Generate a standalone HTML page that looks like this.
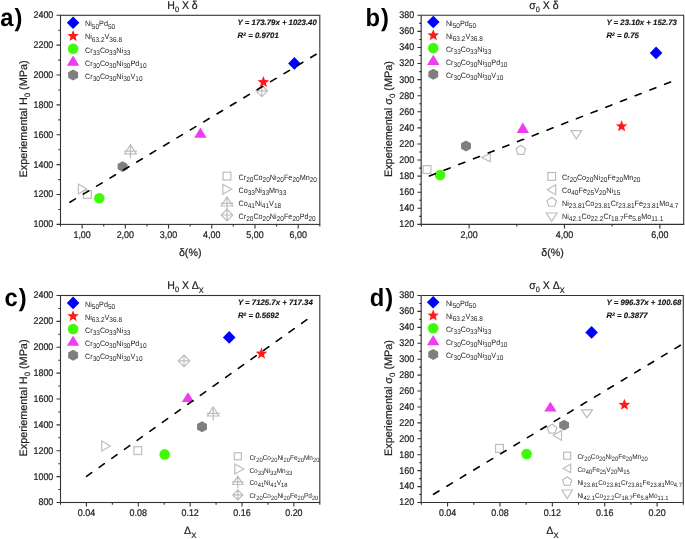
<!DOCTYPE html>
<html><head><meta charset="utf-8"><style>
html,body{margin:0;padding:0;background:#fff;width:685px;height:539px;overflow:hidden;}
svg{display:block;font-family:"Liberation Sans", sans-serif;will-change:transform;text-rendering:geometricPrecision;}
</style></head><body>
<svg width="685" height="539" viewBox="0 0 685 539" font-family='"Liberation Sans", sans-serif'>
<rect width="685" height="539" fill="#fff"/>
<rect x="60.5" y="15.3" width="259.3" height="209.1" fill="none" stroke="#333" stroke-width="1.1"/>
<path d="M56.5 224.4H60.5M56.5 194.53H60.5M56.5 164.66H60.5M56.5 134.79H60.5M56.5 104.91H60.5M56.5 75.04H60.5M56.5 45.17H60.5M56.5 15.3H60.5M58.3 209.46H60.5M58.3 179.59H60.5M58.3 149.72H60.5M58.3 119.85H60.5M58.3 89.98H60.5M58.3 60.11H60.5M58.3 30.24H60.5M82.11 224.4V228.4M125.33 224.4V228.4M168.54 224.4V228.4M211.76 224.4V228.4M254.98 224.4V228.4M298.19 224.4V228.4M60.5 224.4V226.6M103.72 224.4V226.6M146.93 224.4V226.6M190.15 224.4V226.6M233.37 224.4V226.6M276.58 224.4V226.6M319.8 224.4V226.6" stroke="#333" stroke-width="1.1" fill="none"/>
<text transform="translate(53.3 227.3) scale(0.92 1)" font-size="9.7" text-anchor="end" fill="#222" stroke="#222" stroke-width="0.22">1000</text>
<text transform="translate(53.3 197.43) scale(0.92 1)" font-size="9.7" text-anchor="end" fill="#222" stroke="#222" stroke-width="0.22">1200</text>
<text transform="translate(53.3 167.56) scale(0.92 1)" font-size="9.7" text-anchor="end" fill="#222" stroke="#222" stroke-width="0.22">1400</text>
<text transform="translate(53.3 137.69) scale(0.92 1)" font-size="9.7" text-anchor="end" fill="#222" stroke="#222" stroke-width="0.22">1600</text>
<text transform="translate(53.3 107.81) scale(0.92 1)" font-size="9.7" text-anchor="end" fill="#222" stroke="#222" stroke-width="0.22">1800</text>
<text transform="translate(53.3 77.94) scale(0.92 1)" font-size="9.7" text-anchor="end" fill="#222" stroke="#222" stroke-width="0.22">2000</text>
<text transform="translate(53.3 48.07) scale(0.92 1)" font-size="9.7" text-anchor="end" fill="#222" stroke="#222" stroke-width="0.22">2200</text>
<text transform="translate(53.3 18.2) scale(0.92 1)" font-size="9.7" text-anchor="end" fill="#222" stroke="#222" stroke-width="0.22">2400</text>
<text transform="translate(82.11 238) scale(0.92 1)" font-size="9.7" text-anchor="middle" fill="#222" stroke="#222" stroke-width="0.22">1,00</text>
<text transform="translate(125.33 238) scale(0.92 1)" font-size="9.7" text-anchor="middle" fill="#222" stroke="#222" stroke-width="0.22">2,00</text>
<text transform="translate(168.54 238) scale(0.92 1)" font-size="9.7" text-anchor="middle" fill="#222" stroke="#222" stroke-width="0.22">3,00</text>
<text transform="translate(211.76 238) scale(0.92 1)" font-size="9.7" text-anchor="middle" fill="#222" stroke="#222" stroke-width="0.22">4,00</text>
<text transform="translate(254.98 238) scale(0.92 1)" font-size="9.7" text-anchor="middle" fill="#222" stroke="#222" stroke-width="0.22">5,00</text>
<text transform="translate(298.19 238) scale(0.92 1)" font-size="9.7" text-anchor="middle" fill="#222" stroke="#222" stroke-width="0.22">6,00</text>
<text transform="translate(167.3 8.7) scale(0.93 1)" font-size="11.3" fill="#222" stroke="#222" stroke-width="0.2"><tspan>H</tspan><tspan dy="2.9" font-size="7.91">0</tspan><tspan dy="-2.9"> X &#948;</tspan></text>
<text x="0" y="0" font-size="10.85" fill="#222" text-anchor="middle" transform="translate(27.3 118.9) rotate(-90)" stroke="#222" stroke-width="0.2"><tspan>Experiemental H</tspan><tspan dy="2.9" font-size="7.81">0</tspan><tspan dy="-2.9"> (MPa)</tspan></text>
<text x="190.2" y="255.8" font-size="10.7" fill="#222" text-anchor="middle" stroke="#222" stroke-width="0.2"><tspan>&#948;(%)</tspan></text>
<text transform="translate(0.3 25.6) scale(0.95 1)" font-size="25" font-weight="bold" fill="#000" letter-spacing="1">a)</text>
<path d="M73.1 16.4L79.4 22.7L73.1 29L66.8 22.7Z" fill="#0000ff"/>
<polygon points="73.1,29.95 74.64,33.93 78.9,34.16 75.59,36.86 76.69,40.99 73.1,38.67 69.51,40.99 70.61,36.86 67.3,34.16 71.56,33.93" fill="#ff1a1a"/>
<circle cx="73.1" cy="48.8" r="5.3" fill="#3dfc05"/>
<path d="M73.1 55.45L79.3 65.65L66.9 65.65Z" fill="#ee3cf0"/>
<polygon points="73.1,69.55 78.06,72.28 78.06,77.72 73.1,80.45 68.14,77.73 68.14,72.28" fill="#7f7f7f"/>
<text transform="translate(85 26.4) scale(0.93 1)" font-size="7.78" fill="#222" ><tspan>Ni</tspan><tspan dy="2.3" font-size="7">50</tspan><tspan dy="-2.3">Pd</tspan><tspan dy="2.3" font-size="7">50</tspan></text>
<text transform="translate(85 39.45) scale(0.93 1)" font-size="7.78" fill="#222" ><tspan>Ni</tspan><tspan dy="2.3" font-size="7">63.2</tspan><tspan dy="-2.3">V</tspan><tspan dy="2.3" font-size="7">36.8</tspan></text>
<text transform="translate(85 52.5) scale(0.93 1)" font-size="7.78" fill="#222" ><tspan>Cr</tspan><tspan dy="2.3" font-size="7">33</tspan><tspan dy="-2.3">Co</tspan><tspan dy="2.3" font-size="7">33</tspan><tspan dy="-2.3">Ni</tspan><tspan dy="2.3" font-size="7">33</tspan></text>
<text transform="translate(85 65.55) scale(0.93 1)" font-size="7.78" fill="#222" ><tspan>Cr</tspan><tspan dy="2.3" font-size="7">30</tspan><tspan dy="-2.3">Co</tspan><tspan dy="2.3" font-size="7">30</tspan><tspan dy="-2.3">Ni</tspan><tspan dy="2.3" font-size="7">30</tspan><tspan dy="-2.3">Pd</tspan><tspan dy="2.3" font-size="7">10</tspan></text>
<text transform="translate(85 78.6) scale(0.93 1)" font-size="7.78" fill="#222" ><tspan>Cr</tspan><tspan dy="2.3" font-size="7">30</tspan><tspan dy="-2.3">Co</tspan><tspan dy="2.3" font-size="7">30</tspan><tspan dy="-2.3">Ni</tspan><tspan dy="2.3" font-size="7">30</tspan><tspan dy="-2.3">V</tspan><tspan dy="2.3" font-size="7">10</tspan></text>
<text x="237.6" y="25.1" font-size="7.8" font-weight="bold" font-style="italic" fill="#111" stroke="#111" stroke-width="0.15">Y = 173.79x + 1023.40</text>
<text x="237.6" y="38.1" font-size="7.8" font-weight="bold" font-style="italic" fill="#111" stroke="#111" stroke-width="0.15">R<tspan font-size="5" dy="-2.6">2</tspan><tspan dy="2.6"> = 0.9701</tspan></text>
<rect x="223.1" y="172.2" width="7.8" height="7.8" fill="none" stroke="#bdbdbd" stroke-width="1.2"/>
<path d="M222.8 184.2L231.64 189.2L222.8 194.2Z" fill="none" stroke="#bdbdbd" stroke-width="1.2" stroke-linejoin="miter"/>
<path d="M227 196.8L232.8 206L221.2 206ZM227 196.8V210.5M220.6 203.38H233.4" fill="none" stroke="#bdbdbd" stroke-width="1.2"/>
<path d="M227 209.2L232.8 215L227 220.8L221.2 215ZM227 209.2V220.8M221.2 215H232.8" fill="none" stroke="#bdbdbd" stroke-width="1.2"/>
<text transform="translate(238.5 179.7) scale(0.93 1)" font-size="7.78" fill="#222" ><tspan>Cr</tspan><tspan dy="2.3" font-size="7">20</tspan><tspan dy="-2.3">Co</tspan><tspan dy="2.3" font-size="7">20</tspan><tspan dy="-2.3">Ni</tspan><tspan dy="2.3" font-size="7">20</tspan><tspan dy="-2.3">Fe</tspan><tspan dy="2.3" font-size="7">20</tspan><tspan dy="-2.3">Mn</tspan><tspan dy="2.3" font-size="7">20</tspan></text>
<text transform="translate(238.5 192.7) scale(0.93 1)" font-size="7.78" fill="#222" ><tspan>Co</tspan><tspan dy="2.3" font-size="7">33</tspan><tspan dy="-2.3">Ni</tspan><tspan dy="2.3" font-size="7">33</tspan><tspan dy="-2.3">Mn</tspan><tspan dy="2.3" font-size="7">33</tspan></text>
<text transform="translate(238.5 205.7) scale(0.93 1)" font-size="7.78" fill="#222" ><tspan>Co</tspan><tspan dy="2.3" font-size="7">41</tspan><tspan dy="-2.3">Ni</tspan><tspan dy="2.3" font-size="7">41</tspan><tspan dy="-2.3">V</tspan><tspan dy="2.3" font-size="7">18</tspan></text>
<text transform="translate(238.5 218.7) scale(0.93 1)" font-size="7.78" fill="#222" ><tspan>Cr</tspan><tspan dy="2.3" font-size="7">20</tspan><tspan dy="-2.3">Co</tspan><tspan dy="2.3" font-size="7">20</tspan><tspan dy="-2.3">Ni</tspan><tspan dy="2.3" font-size="7">20</tspan><tspan dy="-2.3">Fe</tspan><tspan dy="2.3" font-size="7">20</tspan><tspan dy="-2.3">Pd</tspan><tspan dy="2.3" font-size="7">20</tspan></text>
<path d="M78.4 184L86.64 189L78.4 194Z" fill="none" stroke="#bdbdbd" stroke-width="1.2" stroke-linejoin="miter"/>
<rect x="83.5" y="190.6" width="7.8" height="7.8" fill="none" stroke="#bdbdbd" stroke-width="1.2"/>
<circle cx="99.3" cy="198.2" r="5.3" fill="#3dfc05"/>
<polygon points="122.6,161.15 127.56,163.88 127.56,169.32 122.6,172.05 117.64,169.32 117.64,163.88" fill="#7f7f7f"/>
<path d="M130.5 144.6L136.3 153.8L124.7 153.8ZM130.5 144.6V158.3M124.1 151.18H136.9" fill="none" stroke="#bdbdbd" stroke-width="1.2"/>
<path d="M200.4 127.5L206.6 137.8L194.2 137.8Z" fill="#ee3cf0"/>
<path d="M261.8 85L267.6 90.8L261.8 96.6L256 90.8ZM261.8 85V96.6M256 90.8H267.6" fill="none" stroke="#bdbdbd" stroke-width="1.2"/>
<path d="M294.4 57.1L300.7 63.4L294.4 69.7L288.1 63.4Z" fill="#0000ff"/>
<line x1="69.9" y1="202.2" x2="316.2" y2="54.3" stroke="#000" stroke-width="1.6" stroke-linecap="round" stroke-dasharray="6.4 9.21"/>
<polygon points="263.4,76 264.94,79.98 269.2,80.21 265.89,82.91 266.99,87.04 263.4,84.72 259.81,87.04 260.91,82.91 257.6,80.21 261.86,79.98" fill="#ff1a1a"/>
<path d="M421.4 15.3H683.7V224.4H421.4" fill="none" stroke="#333" stroke-width="1.1"/>
<path d="M420.5 14.8V224.9" stroke="#a8a8a8" stroke-width="1"/>
<path d="M421.5 14.8V224.9" stroke="#646464" stroke-width="1"/>
<path d="M417.4 224.4H421.4M417.4 208.32H421.4M417.4 192.23H421.4M417.4 176.15H421.4M417.4 160.06H421.4M417.4 143.98H421.4M417.4 127.89H421.4M417.4 111.81H421.4M417.4 95.72H421.4M417.4 79.64H421.4M417.4 63.55H421.4M417.4 47.47H421.4M417.4 31.38H421.4M417.4 15.3H421.4M419.2 216.36H421.4M419.2 200.27H421.4M419.2 184.19H421.4M419.2 168.1H421.4M419.2 152.02H421.4M419.2 135.93H421.4M419.2 119.85H421.4M419.2 103.77H421.4M419.2 87.68H421.4M419.2 71.6H421.4M419.2 55.51H421.4M419.2 39.43H421.4M419.2 23.34H421.4M469.09 224.4V228.4M564.47 224.4V228.4M659.85 224.4V228.4M421.4 224.4V226.6M516.78 224.4V226.6M612.16 224.4V226.6" stroke="#333" stroke-width="1.1" fill="none"/>
<text transform="translate(414.2 227.3) scale(0.92 1)" font-size="9.7" text-anchor="end" fill="#222" stroke="#222" stroke-width="0.22">120</text>
<text transform="translate(414.2 211.22) scale(0.92 1)" font-size="9.7" text-anchor="end" fill="#222" stroke="#222" stroke-width="0.22">140</text>
<text transform="translate(414.2 195.13) scale(0.92 1)" font-size="9.7" text-anchor="end" fill="#222" stroke="#222" stroke-width="0.22">160</text>
<text transform="translate(414.2 179.05) scale(0.92 1)" font-size="9.7" text-anchor="end" fill="#222" stroke="#222" stroke-width="0.22">180</text>
<text transform="translate(414.2 162.96) scale(0.92 1)" font-size="9.7" text-anchor="end" fill="#222" stroke="#222" stroke-width="0.22">200</text>
<text transform="translate(414.2 146.88) scale(0.92 1)" font-size="9.7" text-anchor="end" fill="#222" stroke="#222" stroke-width="0.22">220</text>
<text transform="translate(414.2 130.79) scale(0.92 1)" font-size="9.7" text-anchor="end" fill="#222" stroke="#222" stroke-width="0.22">240</text>
<text transform="translate(414.2 114.71) scale(0.92 1)" font-size="9.7" text-anchor="end" fill="#222" stroke="#222" stroke-width="0.22">260</text>
<text transform="translate(414.2 98.62) scale(0.92 1)" font-size="9.7" text-anchor="end" fill="#222" stroke="#222" stroke-width="0.22">280</text>
<text transform="translate(414.2 82.54) scale(0.92 1)" font-size="9.7" text-anchor="end" fill="#222" stroke="#222" stroke-width="0.22">300</text>
<text transform="translate(414.2 66.45) scale(0.92 1)" font-size="9.7" text-anchor="end" fill="#222" stroke="#222" stroke-width="0.22">320</text>
<text transform="translate(414.2 50.37) scale(0.92 1)" font-size="9.7" text-anchor="end" fill="#222" stroke="#222" stroke-width="0.22">340</text>
<text transform="translate(414.2 34.28) scale(0.92 1)" font-size="9.7" text-anchor="end" fill="#222" stroke="#222" stroke-width="0.22">360</text>
<text transform="translate(414.2 18.2) scale(0.92 1)" font-size="9.7" text-anchor="end" fill="#222" stroke="#222" stroke-width="0.22">380</text>
<text transform="translate(469.09 238) scale(0.92 1)" font-size="9.7" text-anchor="middle" fill="#222" stroke="#222" stroke-width="0.22">2,00</text>
<text transform="translate(564.47 238) scale(0.92 1)" font-size="9.7" text-anchor="middle" fill="#222" stroke="#222" stroke-width="0.22">4,00</text>
<text transform="translate(659.85 238) scale(0.92 1)" font-size="9.7" text-anchor="middle" fill="#222" stroke="#222" stroke-width="0.22">6,00</text>
<text transform="translate(529.3 8.7) scale(0.93 1)" font-size="11.3" fill="#222" stroke="#222" stroke-width="0.2"><tspan>&#963;</tspan><tspan dy="2.9" font-size="7.91">0</tspan><tspan dy="-2.9"> X &#948;</tspan></text>
<text x="0" y="0" font-size="10.85" fill="#222" text-anchor="middle" transform="translate(392.3 119.1) rotate(-90)" stroke="#222" stroke-width="0.2"><tspan>Experiemental &#963;</tspan><tspan dy="2.9" font-size="7.81">0</tspan><tspan dy="-2.9"> (MPa)</tspan></text>
<text x="552.5" y="255.8" font-size="10.7" fill="#222" text-anchor="middle" stroke="#222" stroke-width="0.2"><tspan>&#948;(%)</tspan></text>
<text transform="translate(365.5 25.6) scale(0.95 1)" font-size="25" font-weight="bold" fill="#000" letter-spacing="1">b)</text>
<path d="M433.3 15.7L439.6 22L433.3 28.3L427 22Z" fill="#0000ff"/>
<polygon points="433.3,29.25 434.84,33.23 439.1,33.46 435.79,36.16 436.89,40.29 433.3,37.97 429.71,40.29 430.81,36.16 427.5,33.46 431.76,33.23" fill="#ff1a1a"/>
<circle cx="433.3" cy="48.1" r="5.3" fill="#3dfc05"/>
<path d="M433.3 54.75L439.5 64.95L427.1 64.95Z" fill="#ee3cf0"/>
<polygon points="433.3,68.85 438.26,71.58 438.26,77.02 433.3,79.75 428.34,77.03 428.34,71.58" fill="#7f7f7f"/>
<text transform="translate(445.9 25.7) scale(0.93 1)" font-size="7.78" fill="#222" ><tspan>Ni</tspan><tspan dy="2.3" font-size="7">50</tspan><tspan dy="-2.3">Pd</tspan><tspan dy="2.3" font-size="7">50</tspan></text>
<text transform="translate(445.9 38.75) scale(0.93 1)" font-size="7.78" fill="#222" ><tspan>Ni</tspan><tspan dy="2.3" font-size="7">63.2</tspan><tspan dy="-2.3">V</tspan><tspan dy="2.3" font-size="7">36.8</tspan></text>
<text transform="translate(445.9 51.8) scale(0.93 1)" font-size="7.78" fill="#222" ><tspan>Cr</tspan><tspan dy="2.3" font-size="7">33</tspan><tspan dy="-2.3">Co</tspan><tspan dy="2.3" font-size="7">33</tspan><tspan dy="-2.3">Ni</tspan><tspan dy="2.3" font-size="7">33</tspan></text>
<text transform="translate(445.9 64.85) scale(0.93 1)" font-size="7.78" fill="#222" ><tspan>Cr</tspan><tspan dy="2.3" font-size="7">30</tspan><tspan dy="-2.3">Co</tspan><tspan dy="2.3" font-size="7">30</tspan><tspan dy="-2.3">Ni</tspan><tspan dy="2.3" font-size="7">30</tspan><tspan dy="-2.3">Pd</tspan><tspan dy="2.3" font-size="7">10</tspan></text>
<text transform="translate(445.9 77.9) scale(0.93 1)" font-size="7.78" fill="#222" ><tspan>Cr</tspan><tspan dy="2.3" font-size="7">30</tspan><tspan dy="-2.3">Co</tspan><tspan dy="2.3" font-size="7">30</tspan><tspan dy="-2.3">Ni</tspan><tspan dy="2.3" font-size="7">30</tspan><tspan dy="-2.3">V</tspan><tspan dy="2.3" font-size="7">10</tspan></text>
<text x="606.4" y="25.1" font-size="7.8" font-weight="bold" font-style="italic" fill="#111" stroke="#111" stroke-width="0.15">Y = 23.10x + 152.73</text>
<text x="606.4" y="38.1" font-size="7.8" font-weight="bold" font-style="italic" fill="#111" stroke="#111" stroke-width="0.15">R<tspan font-size="5" dy="-2.6">2</tspan><tspan dy="2.6"> = 0.75</tspan></text>
<rect x="547.8" y="172.5" width="7.8" height="7.8" fill="none" stroke="#bdbdbd" stroke-width="1.2"/>
<path d="M555.7 184.8L547.26 189.8L555.7 194.8Z" fill="none" stroke="#bdbdbd" stroke-width="1.2"/>
<polygon points="551.7,197.2 556.46,200.65 554.64,206.25 548.76,206.25 546.94,200.65" fill="none" stroke="#bdbdbd" stroke-width="1.2"/>
<path d="M546.3 213L557.1 213L551.7 221.34Z" fill="none" stroke="#bdbdbd" stroke-width="1.2"/>
<text transform="translate(562 180) scale(0.93 1)" font-size="7.78" fill="#222" ><tspan>Cr</tspan><tspan dy="2.3" font-size="7">20</tspan><tspan dy="-2.3">Co</tspan><tspan dy="2.3" font-size="7">20</tspan><tspan dy="-2.3">Ni</tspan><tspan dy="2.3" font-size="7">20</tspan><tspan dy="-2.3">Fe</tspan><tspan dy="2.3" font-size="7">20</tspan><tspan dy="-2.3">Mn</tspan><tspan dy="2.3" font-size="7">20</tspan></text>
<text transform="translate(562 193) scale(0.93 1)" font-size="7.78" fill="#222" ><tspan>Co</tspan><tspan dy="2.3" font-size="7">40</tspan><tspan dy="-2.3">Fe</tspan><tspan dy="2.3" font-size="7">25</tspan><tspan dy="-2.3">V</tspan><tspan dy="2.3" font-size="7">20</tspan><tspan dy="-2.3">Ni</tspan><tspan dy="2.3" font-size="7">15</tspan></text>
<text transform="translate(562 206) scale(0.93 1)" font-size="7.78" fill="#222" ><tspan>Ni</tspan><tspan dy="2.3" font-size="7">23.81</tspan><tspan dy="-2.3">Co</tspan><tspan dy="2.3" font-size="7">23.81</tspan><tspan dy="-2.3">Cr</tspan><tspan dy="2.3" font-size="7">23.81</tspan><tspan dy="-2.3">Fe</tspan><tspan dy="2.3" font-size="7">23.81</tspan><tspan dy="-2.3">Mo</tspan><tspan dy="2.3" font-size="7">4.7</tspan></text>
<text transform="translate(562 219) scale(0.93 1)" font-size="7.78" fill="#222" ><tspan>Ni</tspan><tspan dy="2.3" font-size="7">42.1</tspan><tspan dy="-2.3">Co</tspan><tspan dy="2.3" font-size="7">22.2</tspan><tspan dy="-2.3">Cr</tspan><tspan dy="2.3" font-size="7">18.7</tspan><tspan dy="-2.3">Fe</tspan><tspan dy="2.3" font-size="7">5.8</tspan><tspan dy="-2.3">Mo</tspan><tspan dy="2.3" font-size="7">11.1</tspan></text>
<rect x="423.1" y="165.6" width="7.8" height="7.8" fill="none" stroke="#bdbdbd" stroke-width="1.2"/>
<polygon points="466,140.55 470.96,143.28 470.96,148.72 466,151.45 461.04,148.72 461.04,143.28" fill="#7f7f7f"/>
<path d="M490.3 153.5L481.76 157.6L490.3 161.7Z" fill="none" stroke="#bdbdbd" stroke-width="1.2"/>
<polygon points="520.8,145.3 525.56,148.75 523.74,154.35 517.86,154.35 516.04,148.75" fill="none" stroke="#bdbdbd" stroke-width="1.2"/>
<path d="M571 130.7L581.7 130.7L576.35 138.94Z" fill="none" stroke="#bdbdbd" stroke-width="1.2"/>
<circle cx="440.1" cy="175.1" r="5.3" fill="#3dfc05"/>
<path d="M522.8 122.4L529 132.9L516.6 132.9Z" fill="#ee3cf0"/>
<path d="M656.1 46.6L662.4 52.9L656.1 59.2L649.8 52.9Z" fill="#0000ff"/>
<line x1="429.4" y1="176" x2="670.6" y2="82" stroke="#000" stroke-width="1.6" stroke-linecap="round" stroke-dasharray="6.4 9.38"/>
<polygon points="621.6,120.2 623.14,124.18 627.4,124.41 624.09,127.11 625.19,131.24 621.6,128.92 618.01,131.24 619.11,127.11 615.8,124.41 620.06,124.18" fill="#ff1a1a"/>
<rect x="60.5" y="295.5" width="259.3" height="207" fill="none" stroke="#333" stroke-width="1.1"/>
<path d="M56.5 502.5H60.5M56.5 476.62H60.5M56.5 450.75H60.5M56.5 424.88H60.5M56.5 399H60.5M56.5 373.12H60.5M56.5 347.25H60.5M56.5 321.38H60.5M56.5 295.5H60.5M58.3 489.56H60.5M58.3 463.69H60.5M58.3 437.81H60.5M58.3 411.94H60.5M58.3 386.06H60.5M58.3 360.19H60.5M58.3 334.31H60.5M58.3 308.44H60.5M86.43 502.5V506.5M138.29 502.5V506.5M190.15 502.5V506.5M242.01 502.5V506.5M293.87 502.5V506.5M60.5 502.5V504.7M112.36 502.5V504.7M164.22 502.5V504.7M216.08 502.5V504.7M267.94 502.5V504.7M319.8 502.5V504.7" stroke="#333" stroke-width="1.1" fill="none"/>
<text transform="translate(53.3 505.4) scale(0.92 1)" font-size="9.7" text-anchor="end" fill="#222" stroke="#222" stroke-width="0.22">800</text>
<text transform="translate(53.3 479.52) scale(0.92 1)" font-size="9.7" text-anchor="end" fill="#222" stroke="#222" stroke-width="0.22">1000</text>
<text transform="translate(53.3 453.65) scale(0.92 1)" font-size="9.7" text-anchor="end" fill="#222" stroke="#222" stroke-width="0.22">1200</text>
<text transform="translate(53.3 427.77) scale(0.92 1)" font-size="9.7" text-anchor="end" fill="#222" stroke="#222" stroke-width="0.22">1400</text>
<text transform="translate(53.3 401.9) scale(0.92 1)" font-size="9.7" text-anchor="end" fill="#222" stroke="#222" stroke-width="0.22">1600</text>
<text transform="translate(53.3 376.02) scale(0.92 1)" font-size="9.7" text-anchor="end" fill="#222" stroke="#222" stroke-width="0.22">1800</text>
<text transform="translate(53.3 350.15) scale(0.92 1)" font-size="9.7" text-anchor="end" fill="#222" stroke="#222" stroke-width="0.22">2000</text>
<text transform="translate(53.3 324.27) scale(0.92 1)" font-size="9.7" text-anchor="end" fill="#222" stroke="#222" stroke-width="0.22">2200</text>
<text transform="translate(53.3 298.4) scale(0.92 1)" font-size="9.7" text-anchor="end" fill="#222" stroke="#222" stroke-width="0.22">2400</text>
<text transform="translate(86.43 516.1) scale(0.92 1)" font-size="9.7" text-anchor="middle" fill="#222" stroke="#222" stroke-width="0.22">0.04</text>
<text transform="translate(138.29 516.1) scale(0.92 1)" font-size="9.7" text-anchor="middle" fill="#222" stroke="#222" stroke-width="0.22">0.08</text>
<text transform="translate(190.15 516.1) scale(0.92 1)" font-size="9.7" text-anchor="middle" fill="#222" stroke="#222" stroke-width="0.22">0.12</text>
<text transform="translate(242.01 516.1) scale(0.92 1)" font-size="9.7" text-anchor="middle" fill="#222" stroke="#222" stroke-width="0.22">0.16</text>
<text transform="translate(293.87 516.1) scale(0.92 1)" font-size="9.7" text-anchor="middle" fill="#222" stroke="#222" stroke-width="0.22">0.20</text>
<text transform="translate(167.3 288.9) scale(0.93 1)" font-size="11.3" fill="#222" stroke="#222" stroke-width="0.2"><tspan>H</tspan><tspan dy="2.9" font-size="7.91">0</tspan><tspan dy="-2.9"> X &#916;</tspan><tspan dy="4.3" font-size="7.91">X</tspan></text>
<text x="0" y="0" font-size="10.85" fill="#222" text-anchor="middle" transform="translate(27.3 398) rotate(-90)" stroke="#222" stroke-width="0.2"><tspan>Experiemental H</tspan><tspan dy="2.9" font-size="7.81">0</tspan><tspan dy="-2.9"> (MPa)</tspan></text>
<text x="190.2" y="533.6" font-size="10.7" fill="#222" text-anchor="middle" stroke="#222" stroke-width="0.2"><tspan>&#916;</tspan><tspan dy="4.3" font-size="7.7">X</tspan></text>
<text transform="translate(4.6 306) scale(0.95 1)" font-size="25" font-weight="bold" fill="#000" letter-spacing="1">c)</text>
<path d="M73.1 296.6L79.4 302.9L73.1 309.2L66.8 302.9Z" fill="#0000ff"/>
<polygon points="73.1,310.15 74.64,314.13 78.9,314.36 75.59,317.06 76.69,321.19 73.1,318.87 69.51,321.19 70.61,317.06 67.3,314.36 71.56,314.13" fill="#ff1a1a"/>
<circle cx="73.1" cy="329" r="5.3" fill="#3dfc05"/>
<path d="M73.1 335.65L79.3 345.85L66.9 345.85Z" fill="#ee3cf0"/>
<polygon points="73.1,349.75 78.06,352.47 78.06,357.93 73.1,360.65 68.14,357.93 68.14,352.47" fill="#7f7f7f"/>
<text transform="translate(85 306.6) scale(0.93 1)" font-size="7.78" fill="#222" ><tspan>Ni</tspan><tspan dy="2.3" font-size="7">50</tspan><tspan dy="-2.3">Pd</tspan><tspan dy="2.3" font-size="7">50</tspan></text>
<text transform="translate(85 319.65) scale(0.93 1)" font-size="7.78" fill="#222" ><tspan>Ni</tspan><tspan dy="2.3" font-size="7">63.2</tspan><tspan dy="-2.3">V</tspan><tspan dy="2.3" font-size="7">36.8</tspan></text>
<text transform="translate(85 332.7) scale(0.93 1)" font-size="7.78" fill="#222" ><tspan>Cr</tspan><tspan dy="2.3" font-size="7">33</tspan><tspan dy="-2.3">Co</tspan><tspan dy="2.3" font-size="7">33</tspan><tspan dy="-2.3">Ni</tspan><tspan dy="2.3" font-size="7">33</tspan></text>
<text transform="translate(85 345.75) scale(0.93 1)" font-size="7.78" fill="#222" ><tspan>Cr</tspan><tspan dy="2.3" font-size="7">30</tspan><tspan dy="-2.3">Co</tspan><tspan dy="2.3" font-size="7">30</tspan><tspan dy="-2.3">Ni</tspan><tspan dy="2.3" font-size="7">30</tspan><tspan dy="-2.3">Pd</tspan><tspan dy="2.3" font-size="7">10</tspan></text>
<text transform="translate(85 358.8) scale(0.93 1)" font-size="7.78" fill="#222" ><tspan>Cr</tspan><tspan dy="2.3" font-size="7">30</tspan><tspan dy="-2.3">Co</tspan><tspan dy="2.3" font-size="7">30</tspan><tspan dy="-2.3">Ni</tspan><tspan dy="2.3" font-size="7">30</tspan><tspan dy="-2.3">V</tspan><tspan dy="2.3" font-size="7">10</tspan></text>
<text x="237.9" y="305.3" font-size="7.8" font-weight="bold" font-style="italic" fill="#111" stroke="#111" stroke-width="0.15">Y = 7125.7x + 717.34</text>
<text x="237.9" y="318.3" font-size="7.8" font-weight="bold" font-style="italic" fill="#111" stroke="#111" stroke-width="0.15">R<tspan font-size="5" dy="-2.6">2</tspan><tspan dy="2.6"> = 0.5692</tspan></text>
<rect x="234.3" y="452.8" width="7" height="7" fill="none" stroke="#bdbdbd" stroke-width="1.2"/>
<path d="M234.8 464L243.84 469L234.8 474Z" fill="none" stroke="#bdbdbd" stroke-width="1.2" stroke-linejoin="miter"/>
<path d="M237.8 476L243 484.5L232.6 484.5ZM237.8 476V488.4M232 481.95H243.6" fill="none" stroke="#bdbdbd" stroke-width="1.2"/>
<path d="M237.8 489.8L242.9 494.9L237.8 500L232.7 494.9ZM237.8 489.8V500M232.7 494.9H242.9" fill="none" stroke="#bdbdbd" stroke-width="1.2"/>
<text transform="translate(249.4 459.6) scale(0.93 1)" font-size="6.95" fill="#222" ><tspan>Cr</tspan><tspan dy="2.05" font-size="6.25">20</tspan><tspan dy="-2.05">Co</tspan><tspan dy="2.05" font-size="6.25">20</tspan><tspan dy="-2.05">Ni</tspan><tspan dy="2.05" font-size="6.25">20</tspan><tspan dy="-2.05">Fe</tspan><tspan dy="2.05" font-size="6.25">20</tspan><tspan dy="-2.05">Mn</tspan><tspan dy="2.05" font-size="6.25">20</tspan></text>
<text transform="translate(249.4 472.5) scale(0.93 1)" font-size="6.95" fill="#222" ><tspan>Co</tspan><tspan dy="2.05" font-size="6.25">33</tspan><tspan dy="-2.05">Ni</tspan><tspan dy="2.05" font-size="6.25">33</tspan><tspan dy="-2.05">Mn</tspan><tspan dy="2.05" font-size="6.25">33</tspan></text>
<text transform="translate(249.4 485.4) scale(0.93 1)" font-size="6.95" fill="#222" ><tspan>Co</tspan><tspan dy="2.05" font-size="6.25">41</tspan><tspan dy="-2.05">Ni</tspan><tspan dy="2.05" font-size="6.25">41</tspan><tspan dy="-2.05">V</tspan><tspan dy="2.05" font-size="6.25">18</tspan></text>
<text transform="translate(249.4 498.3) scale(0.93 1)" font-size="6.95" fill="#222" ><tspan>Cr</tspan><tspan dy="2.05" font-size="6.25">20</tspan><tspan dy="-2.05">Co</tspan><tspan dy="2.05" font-size="6.25">20</tspan><tspan dy="-2.05">Ni</tspan><tspan dy="2.05" font-size="6.25">20</tspan><tspan dy="-2.05">Fe</tspan><tspan dy="2.05" font-size="6.25">20</tspan><tspan dy="-2.05">Pd</tspan><tspan dy="2.05" font-size="6.25">20</tspan></text>
<path d="M101.7 440.9L110.44 445.95L101.7 451Z" fill="none" stroke="#bdbdbd" stroke-width="1.2" stroke-linejoin="miter"/>
<rect x="133.9" y="446.7" width="7.8" height="7.8" fill="none" stroke="#bdbdbd" stroke-width="1.2"/>
<circle cx="164.7" cy="454.4" r="5.3" fill="#3dfc05"/>
<path d="M184 355L189.8 360.8L184 366.6L178.2 360.8ZM184 355V366.6M178.2 360.8H189.8" fill="none" stroke="#bdbdbd" stroke-width="1.2"/>
<polygon points="202,421.25 206.96,423.97 206.96,429.43 202,432.15 197.04,429.43 197.04,423.97" fill="#7f7f7f"/>
<path d="M213.2 406.8L219 416L207.4 416ZM213.2 406.8V420.5M206.8 413.38H219.6" fill="none" stroke="#bdbdbd" stroke-width="1.2"/>
<path d="M188 392.2L194.2 402L181.8 402Z" fill="#ee3cf0"/>
<path d="M229.2 331.1L235.5 337.4L229.2 343.7L222.9 337.4Z" fill="#0000ff"/>
<line x1="86.5" y1="476.4" x2="306.9" y2="319.7" stroke="#000" stroke-width="1.6" stroke-linecap="round" stroke-dasharray="6.4 9.13"/>
<polygon points="261.5,347.6 263.04,351.58 267.3,351.81 263.99,354.51 265.09,358.64 261.5,356.32 257.91,358.64 259.01,354.51 255.7,351.81 259.96,351.58" fill="#ff1a1a"/>
<path d="M421.4 295.5H683.3V502.5H421.4" fill="none" stroke="#333" stroke-width="1.1"/>
<path d="M420.5 295V503" stroke="#a8a8a8" stroke-width="1"/>
<path d="M421.5 295V503" stroke="#646464" stroke-width="1"/>
<path d="M417.4 502.5H421.4M417.4 486.58H421.4M417.4 470.65H421.4M417.4 454.73H421.4M417.4 438.81H421.4M417.4 422.88H421.4M417.4 406.96H421.4M417.4 391.04H421.4M417.4 375.12H421.4M417.4 359.19H421.4M417.4 343.27H421.4M417.4 327.35H421.4M417.4 311.42H421.4M417.4 295.5H421.4M419.2 494.54H421.4M419.2 478.62H421.4M419.2 462.69H421.4M419.2 446.77H421.4M419.2 430.85H421.4M419.2 414.92H421.4M419.2 399H421.4M419.2 383.08H421.4M419.2 367.15H421.4M419.2 351.23H421.4M419.2 335.31H421.4M419.2 319.38H421.4M419.2 303.46H421.4M447.59 502.5V506.5M499.97 502.5V506.5M552.35 502.5V506.5M604.73 502.5V506.5M657.11 502.5V506.5M421.4 502.5V504.7M473.78 502.5V504.7M526.16 502.5V504.7M578.54 502.5V504.7M630.92 502.5V504.7M683.3 502.5V504.7" stroke="#333" stroke-width="1.1" fill="none"/>
<text transform="translate(414.2 505.4) scale(0.92 1)" font-size="9.7" text-anchor="end" fill="#222" stroke="#222" stroke-width="0.22">120</text>
<text transform="translate(414.2 489.48) scale(0.92 1)" font-size="9.7" text-anchor="end" fill="#222" stroke="#222" stroke-width="0.22">140</text>
<text transform="translate(414.2 473.55) scale(0.92 1)" font-size="9.7" text-anchor="end" fill="#222" stroke="#222" stroke-width="0.22">160</text>
<text transform="translate(414.2 457.63) scale(0.92 1)" font-size="9.7" text-anchor="end" fill="#222" stroke="#222" stroke-width="0.22">180</text>
<text transform="translate(414.2 441.71) scale(0.92 1)" font-size="9.7" text-anchor="end" fill="#222" stroke="#222" stroke-width="0.22">200</text>
<text transform="translate(414.2 425.78) scale(0.92 1)" font-size="9.7" text-anchor="end" fill="#222" stroke="#222" stroke-width="0.22">220</text>
<text transform="translate(414.2 409.86) scale(0.92 1)" font-size="9.7" text-anchor="end" fill="#222" stroke="#222" stroke-width="0.22">240</text>
<text transform="translate(414.2 393.94) scale(0.92 1)" font-size="9.7" text-anchor="end" fill="#222" stroke="#222" stroke-width="0.22">260</text>
<text transform="translate(414.2 378.02) scale(0.92 1)" font-size="9.7" text-anchor="end" fill="#222" stroke="#222" stroke-width="0.22">280</text>
<text transform="translate(414.2 362.09) scale(0.92 1)" font-size="9.7" text-anchor="end" fill="#222" stroke="#222" stroke-width="0.22">300</text>
<text transform="translate(414.2 346.17) scale(0.92 1)" font-size="9.7" text-anchor="end" fill="#222" stroke="#222" stroke-width="0.22">320</text>
<text transform="translate(414.2 330.25) scale(0.92 1)" font-size="9.7" text-anchor="end" fill="#222" stroke="#222" stroke-width="0.22">340</text>
<text transform="translate(414.2 314.32) scale(0.92 1)" font-size="9.7" text-anchor="end" fill="#222" stroke="#222" stroke-width="0.22">360</text>
<text transform="translate(414.2 298.4) scale(0.92 1)" font-size="9.7" text-anchor="end" fill="#222" stroke="#222" stroke-width="0.22">380</text>
<text transform="translate(447.59 516.1) scale(0.92 1)" font-size="9.7" text-anchor="middle" fill="#222" stroke="#222" stroke-width="0.22">0.04</text>
<text transform="translate(499.97 516.1) scale(0.92 1)" font-size="9.7" text-anchor="middle" fill="#222" stroke="#222" stroke-width="0.22">0.08</text>
<text transform="translate(552.35 516.1) scale(0.92 1)" font-size="9.7" text-anchor="middle" fill="#222" stroke="#222" stroke-width="0.22">0.12</text>
<text transform="translate(604.73 516.1) scale(0.92 1)" font-size="9.7" text-anchor="middle" fill="#222" stroke="#222" stroke-width="0.22">0.16</text>
<text transform="translate(657.11 516.1) scale(0.92 1)" font-size="9.7" text-anchor="middle" fill="#222" stroke="#222" stroke-width="0.22">0.20</text>
<text transform="translate(529.3 288.9) scale(0.93 1)" font-size="11.3" fill="#222" stroke="#222" stroke-width="0.2"><tspan>&#963;</tspan><tspan dy="2.9" font-size="7.91">0</tspan><tspan dy="-2.9"> X &#916;</tspan><tspan dy="4.3" font-size="7.91">X</tspan></text>
<text x="0" y="0" font-size="10.85" fill="#222" text-anchor="middle" transform="translate(392.3 398) rotate(-90)" stroke="#222" stroke-width="0.2"><tspan>Experiemental &#963;</tspan><tspan dy="2.9" font-size="7.81">0</tspan><tspan dy="-2.9"> (MPa)</tspan></text>
<text x="552.4" y="533.6" font-size="10.7" fill="#222" text-anchor="middle" stroke="#222" stroke-width="0.2"><tspan>&#916;</tspan><tspan dy="4.3" font-size="7.7">X</tspan></text>
<text transform="translate(369.8 306) scale(0.95 1)" font-size="25" font-weight="bold" fill="#000" letter-spacing="1">d)</text>
<path d="M433.2 295.9L439.5 302.2L433.2 308.5L426.9 302.2Z" fill="#0000ff"/>
<polygon points="433.2,309.45 434.74,313.43 439,313.66 435.69,316.36 436.79,320.49 433.2,318.17 429.61,320.49 430.71,316.36 427.4,313.66 431.66,313.43" fill="#ff1a1a"/>
<circle cx="433.2" cy="328.3" r="5.3" fill="#3dfc05"/>
<path d="M433.2 334.95L439.4 345.15L427 345.15Z" fill="#ee3cf0"/>
<polygon points="433.2,349.05 438.16,351.77 438.16,357.23 433.2,359.95 428.24,357.23 428.24,351.77" fill="#7f7f7f"/>
<text transform="translate(445.9 305.9) scale(0.93 1)" font-size="7.78" fill="#222" ><tspan>Ni</tspan><tspan dy="2.3" font-size="7">50</tspan><tspan dy="-2.3">Pd</tspan><tspan dy="2.3" font-size="7">50</tspan></text>
<text transform="translate(445.9 318.95) scale(0.93 1)" font-size="7.78" fill="#222" ><tspan>Ni</tspan><tspan dy="2.3" font-size="7">63.2</tspan><tspan dy="-2.3">V</tspan><tspan dy="2.3" font-size="7">36.8</tspan></text>
<text transform="translate(445.9 332) scale(0.93 1)" font-size="7.78" fill="#222" ><tspan>Cr</tspan><tspan dy="2.3" font-size="7">33</tspan><tspan dy="-2.3">Co</tspan><tspan dy="2.3" font-size="7">33</tspan><tspan dy="-2.3">Ni</tspan><tspan dy="2.3" font-size="7">33</tspan></text>
<text transform="translate(445.9 345.05) scale(0.93 1)" font-size="7.78" fill="#222" ><tspan>Cr</tspan><tspan dy="2.3" font-size="7">30</tspan><tspan dy="-2.3">Co</tspan><tspan dy="2.3" font-size="7">30</tspan><tspan dy="-2.3">Ni</tspan><tspan dy="2.3" font-size="7">30</tspan><tspan dy="-2.3">Pd</tspan><tspan dy="2.3" font-size="7">10</tspan></text>
<text transform="translate(445.9 358.1) scale(0.93 1)" font-size="7.78" fill="#222" ><tspan>Cr</tspan><tspan dy="2.3" font-size="7">30</tspan><tspan dy="-2.3">Co</tspan><tspan dy="2.3" font-size="7">30</tspan><tspan dy="-2.3">Ni</tspan><tspan dy="2.3" font-size="7">30</tspan><tspan dy="-2.3">V</tspan><tspan dy="2.3" font-size="7">10</tspan></text>
<text x="606.5" y="305.3" font-size="7.8" font-weight="bold" font-style="italic" fill="#111" stroke="#111" stroke-width="0.15">Y = 996.37x + 100.68</text>
<text x="606.5" y="318.3" font-size="7.8" font-weight="bold" font-style="italic" fill="#111" stroke="#111" stroke-width="0.15">R<tspan font-size="5" dy="-2.6">2</tspan><tspan dy="2.6"> = 0.3877</tspan></text>
<rect x="563.7" y="452.2" width="7" height="7" fill="none" stroke="#bdbdbd" stroke-width="1.2"/>
<path d="M570.7 464.1L563.26 468.4L570.7 472.7Z" fill="none" stroke="#bdbdbd" stroke-width="1.2"/>
<polygon points="567.2,476.7 571.77,480.02 570.02,485.38 564.38,485.38 562.63,480.02" fill="none" stroke="#bdbdbd" stroke-width="1.2"/>
<path d="M562 490L572.4 490L567.2 498.64Z" fill="none" stroke="#bdbdbd" stroke-width="1.2"/>
<text transform="translate(577.4 459.2) scale(0.93 1)" font-size="6.99" fill="#222" ><tspan>Cr</tspan><tspan dy="2.05" font-size="6.29">20</tspan><tspan dy="-2.05">Co</tspan><tspan dy="2.05" font-size="6.29">20</tspan><tspan dy="-2.05">Ni</tspan><tspan dy="2.05" font-size="6.29">20</tspan><tspan dy="-2.05">Fe</tspan><tspan dy="2.05" font-size="6.29">20</tspan><tspan dy="-2.05">Mn</tspan><tspan dy="2.05" font-size="6.29">20</tspan></text>
<text transform="translate(577.4 472.1) scale(0.93 1)" font-size="6.99" fill="#222" ><tspan>Co</tspan><tspan dy="2.05" font-size="6.29">40</tspan><tspan dy="-2.05">Fe</tspan><tspan dy="2.05" font-size="6.29">25</tspan><tspan dy="-2.05">V</tspan><tspan dy="2.05" font-size="6.29">20</tspan><tspan dy="-2.05">Ni</tspan><tspan dy="2.05" font-size="6.29">15</tspan></text>
<text transform="translate(577.4 485) scale(0.93 1)" font-size="6.99" fill="#222" ><tspan>Ni</tspan><tspan dy="2.05" font-size="6.29">23.81</tspan><tspan dy="-2.05">Co</tspan><tspan dy="2.05" font-size="6.29">23.81</tspan><tspan dy="-2.05">Cr</tspan><tspan dy="2.05" font-size="6.29">23.81</tspan><tspan dy="-2.05">Fe</tspan><tspan dy="2.05" font-size="6.29">23.81</tspan><tspan dy="-2.05">Mo</tspan><tspan dy="2.05" font-size="6.29">4.7</tspan></text>
<text transform="translate(577.4 497.9) scale(0.93 1)" font-size="6.99" fill="#222" ><tspan>Ni</tspan><tspan dy="2.05" font-size="6.29">42.1</tspan><tspan dy="-2.05">Co</tspan><tspan dy="2.05" font-size="6.29">22.2</tspan><tspan dy="-2.05">Cr</tspan><tspan dy="2.05" font-size="6.29">18.7</tspan><tspan dy="-2.05">Fe</tspan><tspan dy="2.05" font-size="6.29">5.8</tspan><tspan dy="-2.05">Mo</tspan><tspan dy="2.05" font-size="6.29">11.1</tspan></text>
<rect x="495.6" y="444.5" width="7.8" height="7.8" fill="none" stroke="#bdbdbd" stroke-width="1.2"/>
<path d="M561.5 430.6L553.16 435.45L561.5 440.3Z" fill="none" stroke="#bdbdbd" stroke-width="1.2"/>
<polygon points="552.1,424 556.86,427.45 555.04,433.05 549.16,433.05 547.34,427.45" fill="none" stroke="#bdbdbd" stroke-width="1.2"/>
<path d="M581.4 409.9L592.5 409.9L586.95 417.64Z" fill="none" stroke="#bdbdbd" stroke-width="1.2"/>
<polygon points="564.1,419.65 569.06,422.38 569.06,427.83 564.1,430.55 559.14,427.83 559.14,422.38" fill="#7f7f7f"/>
<circle cx="526.6" cy="454" r="5.3" fill="#3dfc05"/>
<path d="M550.4 401.7L556.6 411.6L544.2 411.6Z" fill="#ee3cf0"/>
<path d="M591.6 326.1L597.9 332.4L591.6 338.7L585.3 332.4Z" fill="#0000ff"/>
<line x1="433.5" y1="494.3" x2="680.4" y2="345.3" stroke="#000" stroke-width="1.6" stroke-linecap="round" stroke-dasharray="6.4 9.27"/>
<polygon points="624.4,398.8 625.94,402.78 630.2,403.01 626.89,405.71 627.99,409.84 624.4,407.52 620.81,409.84 621.91,405.71 618.6,403.01 622.86,402.78" fill="#ff1a1a"/>
</svg>
</body></html>
